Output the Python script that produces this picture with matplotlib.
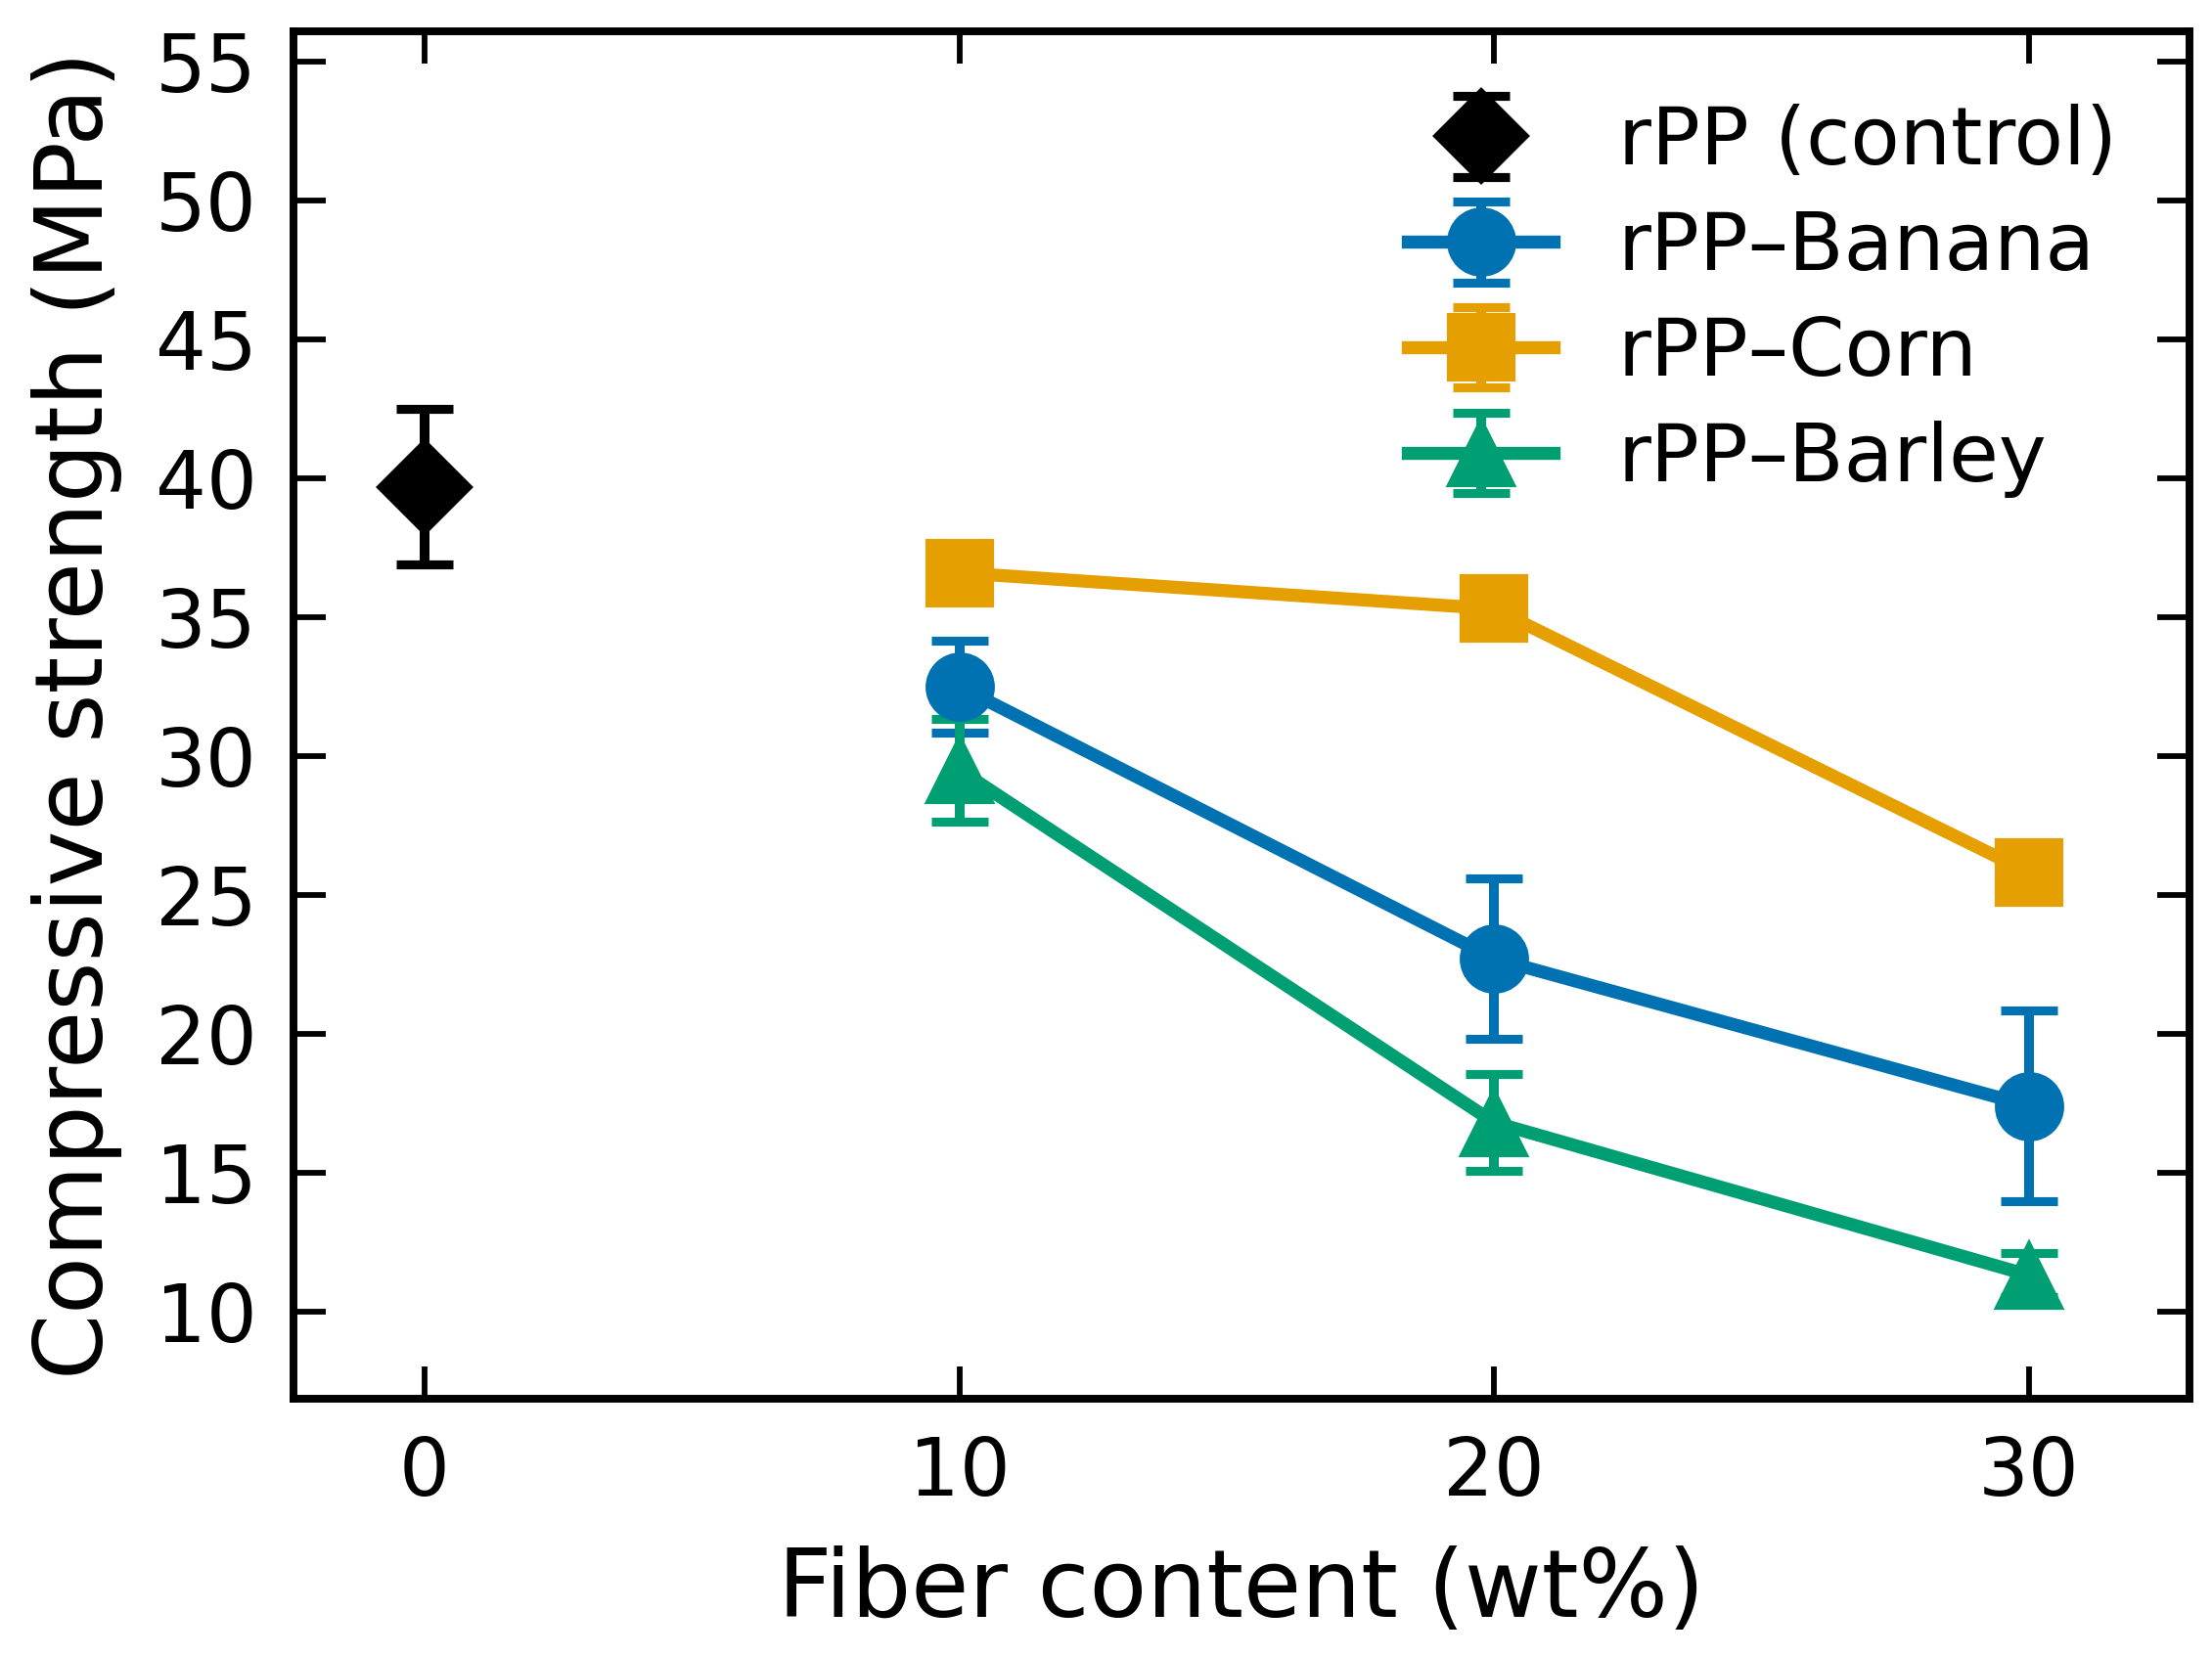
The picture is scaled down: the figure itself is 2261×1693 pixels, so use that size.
import matplotlib
matplotlib.use("Agg")
import matplotlib.pyplot as plt
import numpy as np

plt.rcParams['font.family'] = ['DejaVu Sans']

# Data
control_x = [0]
control_y = [39.7]
control_err = [2.8]

fiber_x = [10, 20, 30]
banana_y = [32.5, 22.7, 17.4]
banana_err = [1.65, 2.9, 3.45]
corn_y = [36.6, 35.3, 25.8]
corn_err = [0.9, 1.0, 0.8]
barley_y = [29.5, 16.8, 11.3]
barley_err = [1.85, 1.73, 0.8]

labels = ["rPP (control)", "rPP\u2013Banana", "rPP\u2013Corn", "rPP\u2013Barley"]
colors = ["#000000", "#0072B2", "#E69F00", "#009E73"]

W, H = 2261, 1693
fig = plt.figure(figsize=(W / 300, H / 300), dpi=300)
ax = fig.add_axes([300 / W, 1 - 1430 / H, (2238 - 300) / W, (1430 - 32) / H])

ms = 16
ekw = dict(elinewidth=2.4, capsize=7, capthick=2.2)

ax.errorbar(control_x, control_y, yerr=control_err, fmt='D', color=colors[0],
            ms=ms, label=labels[0], linestyle='none', **ekw)
ax.errorbar(fiber_x, banana_y, yerr=banana_err, fmt='o-', color=colors[1],
            ms=ms, lw=3.2, label=labels[1], **ekw)
ax.errorbar(fiber_x, corn_y, yerr=corn_err, fmt='s-', color=colors[2],
            ms=ms, lw=3.2, label=labels[2], **ekw)
ax.errorbar(fiber_x, barley_y, yerr=barley_err, fmt='^-', color=colors[3],
            ms=ms, lw=3.2, label=labels[3], **ekw)

ax.set_xlim(-2.45, 33.0)
ax.set_ylim(6.85, 56.1)
ax.set_xticks([0, 10, 20, 30])
ax.set_yticks([10, 15, 20, 25, 30, 35, 40, 45, 50, 55])

for s in ax.spines.values():
    s.set_linewidth(1.9)
ax.tick_params(direction='in', top=True, right=True, length=8, width=1.4,
               labelsize=19.6, pad=9)

ax.set_xlabel("Fiber content (wt%)", fontsize=23.1, labelpad=8)
ax.set_ylabel("Compressive strength (MPa)", fontsize=23.1, labelpad=8)

ax.legend(loc='upper right', frameon=False, fontsize=19.8, handlelength=1.8,
          handletextpad=0.8, labelspacing=0.35, borderaxespad=0.5)

fig.savefig("out.png", dpi=300)
